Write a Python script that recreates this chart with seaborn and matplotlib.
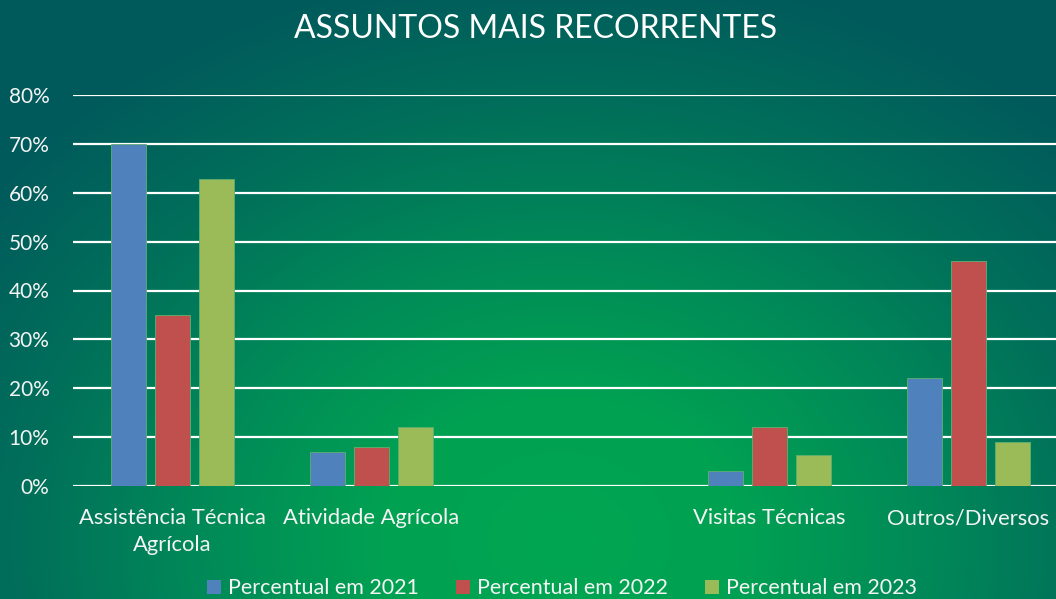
import numpy as np
import pandas as pd
import matplotlib
matplotlib.use("Agg")
import matplotlib.pyplot as plt
from matplotlib.colors import LinearSegmentedColormap
import seaborn as sns

# data
categories = ["Assistência Técnica\nAgrícola", "Atividade Agrícola", " ", "Visitas Técnicas", "Outros/Diversos"]
pct_2021 = [0.70, 0.07, np.nan, 0.03, 0.22]
pct_2022 = [0.35, 0.08, np.nan, 0.12, 0.46]
pct_2023 = [0.628, 0.12, np.nan, 0.063, 0.09]
series_names = ["Percentual em 2021", "Percentual em 2022", "Percentual em 2023"]
y_ticks = [0.0, 0.1, 0.2, 0.3, 0.4, 0.5, 0.6, 0.7, 0.8]

palette = ["#4F81BD", "#C0504D", "#9BBB59"]

df = pd.DataFrame({
    "categoria": categories * 3,
    "serie": np.repeat(series_names, len(categories)),
    "valor": pct_2021 + pct_2022 + pct_2023,
})

sns.set_theme(style="white")
plt.rcParams["font.family"] = ["Lato", "DejaVu Sans"]

W, H = 1056, 599
fig = plt.figure(figsize=(W / 100, H / 100), dpi=100)

# radial green background
bg = fig.add_axes([0, 0, 1, 1], zorder=-10)
yy, xx = np.mgrid[0:H, 0:W]
r = np.sqrt(((xx - 560) / 720.0) ** 2 + ((yy - 540) / 580.0) ** 2)
r = np.clip(r, 0, 1)
cmap = LinearSegmentedColormap.from_list("bg", ["#00A651", "#00A152", "#008A58", "#006F5A", "#005A5C"])
bg.imshow(r, cmap=cmap, aspect="auto", extent=[0, W, H, 0], vmin=0, vmax=1)
bg.axis("off")

# plot area runs a little past the right edge, as in the reference
ax_left, ax_right = 73, 1068
ax = fig.add_axes([ax_left / W, 1 - 486 / H, (ax_right - ax_left) / W, (486 - 95) / H])
ax.patch.set_alpha(0)
sns.barplot(data=df, x="categoria", y="valor", hue="serie", order=categories,
            hue_order=series_names, palette=palette, width=0.665, gap=0.2,
            saturation=1, edgecolor="#5fb070", linewidth=0.6, ax=ax, zorder=3)

ax.set_ylim(0, 0.8)
ax.set_yticks(y_ticks)
ax.set_yticklabels([f"{int(round(v * 100))}%" for v in y_ticks], color="#f4f4f4", fontsize=15)
ax.yaxis.grid(True, color="white", linewidth=1.6, zorder=1)
ax.set_axisbelow(True)
for s in ax.spines.values():
    s.set_visible(False)
ax.tick_params(axis="y", length=0, pad=17)
ax.tick_params(axis="x", length=0, pad=16)
for lbl in ax.get_xticklabels():
    lbl.set_color("#f4f4f4")
    lbl.set_fontsize(15.8)
    lbl.set_linespacing(1.4)
ax.set_xlabel("")
ax.set_ylabel("")

leg = ax.legend(loc="center", bbox_to_anchor=((562 - ax_left) / (ax_right - ax_left), -0.262), ncol=3,
                frameon=False, fontsize=15.5, handlelength=0.65, handleheight=0.65, handletextpad=0.3,
                columnspacing=1.75, labelcolor="#f4f4f4")
for h in leg.legend_handles:
    h.set_edgecolor("none")

fig.text(536 / W, 1 - 29 / H, "ASSUNTOS MAIS RECORRENTES", color="white", fontsize=23,
         ha="center", va="center")

fig.savefig("out.png", dpi=100)
